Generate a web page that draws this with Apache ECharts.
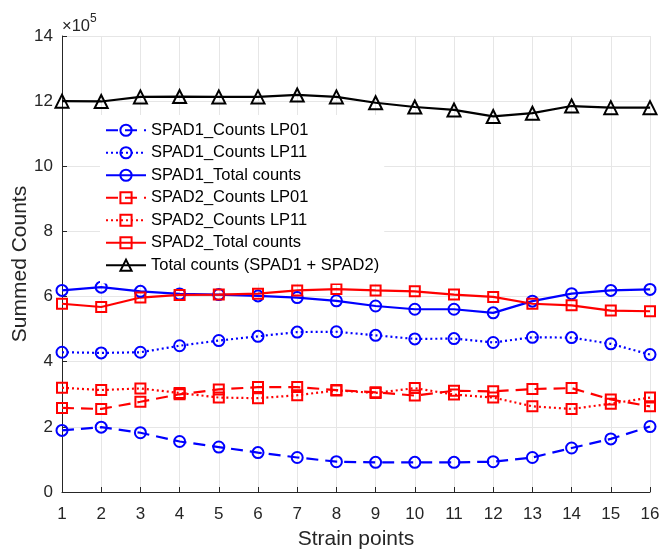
<!DOCTYPE html>
<html>
<head>
<meta charset="utf-8">
<script src="https://cdn.jsdelivr.net/npm/echarts@6/dist/echarts.min.js"></script>
<style>
  html, body { margin: 0; padding: 0; background: #fff; }
  #chart { width: 663px; height: 549px; }
</style>
</head>
<body>
<div id="chart"></div>
<script>
// Strain points along the x axis
const strainPoints = ['1', '2', '3', '4', '5', '6', '7', '8', '9', '10', '11', '12', '13', '14', '15', '16'];

// Summed photon counts per detector and mode
const spad1LP01  = [189000, 199000, 182000, 155000, 138000, 121000, 106000, 93000, 91000, 91000, 91000, 93000, 106000, 135000, 163000, 201000];
const spad1LP11  = [429000, 427000, 429000, 449000, 465000, 478000, 491000, 492000, 481000, 470000, 471000, 459000, 475000, 474000, 455000, 422000];
const spad1Total = [619000, 629000, 616000, 608000, 606000, 602000, 597000, 587000, 571000, 561000, 561000, 550000, 586000, 609000, 619000, 622000];
const spad2LP01  = [258000, 255000, 277000, 300000, 315000, 322000, 322000, 313000, 306000, 296000, 311000, 309000, 316000, 319000, 284000, 263000];
const spad2LP11  = [320000, 313000, 318000, 304000, 290000, 288000, 297000, 312000, 304000, 319000, 299000, 290000, 263000, 255000, 271000, 290000];
const spad2Total = [578000, 568000, 597000, 605000, 606000, 609000, 619000, 623000, 619000, 616000, 606000, 599000, 578000, 573000, 557000, 555000];
const totalCounts = [1200000, 1199000, 1213000, 1214000, 1213000, 1213000, 1219000, 1213000, 1195000, 1182000, 1173000, 1153000, 1163000, 1185000, 1180000, 1180000];

const FONT = "'Liberation Sans', Arial, Helvetica, sans-serif";
const INK = '#262626';
const DASHED = [12, 7];
const DOTTED = [2, 3];

function lineSeries(name, data, color, symbol, size, dash) {
  return {
    name: name,
    type: 'line',
    data: data,
    color: color,
    symbol: symbol,
    symbolSize: size,
    showSymbol: true,
    lineStyle: { color: color, width: 2.2, type: dash },
    itemStyle: { color: 'transparent', borderColor: color, borderWidth: 2 },
    emphasis: { disabled: true },
    animation: false
  };
}

const chart = echarts.init(document.getElementById('chart'), null, { renderer: 'canvas' });

chart.setOption({
  backgroundColor: '#fff',
  animation: false,
  textStyle: { fontFamily: FONT },
  title: {
    text: '{a|×10}{b|5}',
    left: 62,
    top: 13,
    padding: 0,
    textStyle: {
      fontWeight: 'normal',
      rich: {
        a: { fontSize: 16.5, lineHeight: 22, color: INK, fontFamily: FONT, fontWeight: 'normal', verticalAlign: 'bottom' },
        b: { fontSize: 12, lineHeight: 12, color: INK, fontFamily: FONT, fontWeight: 'normal', verticalAlign: 'top' }
      }
    }
  },
  grid: { left: 62, right: 13, top: 36, bottom: 57, containLabel: false, outerBoundsMode: 'none' },
  legend: {
    orient: 'vertical',
    left: 100,
    top: 115,
    itemWidth: 40,
    itemHeight: 14,
    itemGap: 5.5,
    padding: [6.75, 5, 9.75, 5],
    backgroundColor: '#fff',
    textStyle: { fontSize: 16.5, color: '#000', fontFamily: FONT },
    data: ['SPAD1_Counts LP01', 'SPAD1_Counts LP11', 'SPAD1_Total counts',
           'SPAD2_Counts LP01', 'SPAD2_Counts LP11', 'SPAD2_Total counts',
           'Total counts (SPAD1 + SPAD2)']
  },
  xAxis: {
    type: 'category',
    data: strainPoints,
    boundaryGap: false,
    name: 'Strain points',
    nameLocation: 'middle',
    nameGap: 37,
    nameMoveOverlap: false,
    nameTextStyle: { fontSize: 21, color: INK, fontFamily: FONT },
    axisLine: { lineStyle: { color: INK, width: 1 } },
    axisTick: { inside: true, length: 5, lineStyle: { color: INK } },
    axisLabel: { fontSize: 17, color: INK, margin: 14, fontFamily: FONT },
    splitLine: { show: true, lineStyle: { color: '#e6e6e6', width: 1 } }
  },
  yAxis: {
    type: 'value',
    min: 0,
    max: 1400000,
    interval: 200000,
    name: 'Summed Counts',
    nameLocation: 'middle',
    nameGap: 31,
    nameMoveOverlap: false,
    nameTextStyle: { fontSize: 21, color: INK, fontFamily: FONT },
    axisLine: { show: true, lineStyle: { color: INK, width: 1 } },
    axisTick: { show: true, inside: true, length: 5, lineStyle: { color: INK } },
    axisLabel: {
      fontSize: 17, color: INK, margin: 9, fontFamily: FONT,
      formatter: function (v) { return String(Math.round(v / 100000)); }
    },
    splitLine: { show: true, lineStyle: { color: '#e6e6e6', width: 1 } }
  },
  series: [
    lineSeries('SPAD1_Counts LP01', spad1LP01, '#0000ff', 'circle', 11, DASHED),
    lineSeries('SPAD1_Counts LP11', spad1LP11, '#0000ff', 'circle', 11, DOTTED),
    lineSeries('SPAD1_Total counts', spad1Total, '#0000ff', 'circle', 11, 'solid'),
    lineSeries('SPAD2_Counts LP01', spad2LP01, '#ff0000', 'rect', 10, DASHED),
    lineSeries('SPAD2_Counts LP11', spad2LP11, '#ff0000', 'rect', 10, DOTTED),
    lineSeries('SPAD2_Total counts', spad2Total, '#ff0000', 'rect', 10, 'solid'),
    lineSeries('Total counts (SPAD1 + SPAD2)', totalCounts, '#000000', 'triangle', 13, 'solid')
  ]
});
</script>
</body>
</html>
